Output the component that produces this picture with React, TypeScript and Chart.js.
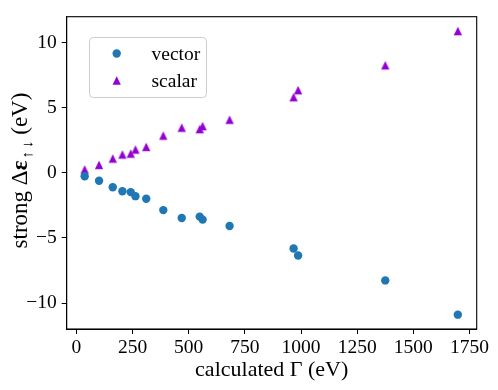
import React, { useEffect, useRef } from "react";
import { Chart, registerables } from "chart.js";

Chart.register(...registerables);

const gammaX = [37, 101, 162, 205, 242, 263, 311, 387, 469, 549, 562, 682, 967, 987, 1375, 1698];
const vectorY = [-0.26, -0.61, -1.1, -1.41, -1.48, -1.79, -1.99, -2.86, -3.47, -3.36, -3.59, -4.08, -5.81, -6.35, -8.26, -10.89];
const scalarY = [0.26, 0.61, 1.1, 1.41, 1.48, 1.79, 1.99, 2.86, 3.47, 3.36, 3.59, 4.08, 5.81, 6.35, 8.26, 10.89];
const xTicks = [0, 250, 500, 750, 1000, 1250, 1500, 1750];
const yTicks = [-10, -5, 0, 5, 10];
const seriesNames = ["vector", "scalar"];
const colors = ["#1f77b4", "#9400d3"];

const SERIF = "'Liberation Serif', 'DejaVu Serif', serif";

function makeTriangle(color: string) {
  const c = document.createElement("canvas");
  c.width = 12;
  c.height = 12;
  const g = c.getContext("2d")!;
  const h = 4.15;
  g.fillStyle = color;
  g.beginPath();
  g.moveTo(6, 6 - h);
  g.lineTo(6 + h, 6 + h);
  g.lineTo(6 - h, 6 + h);
  g.closePath();
  g.fill();
  return c;
}

const framePlugin = {
  id: "frame",
  afterDraw(chart: any) {
    const { ctx, chartArea } = chart;
    const a = chartArea;
    ctx.save();
    ctx.strokeStyle = "#000";
    ctx.lineWidth = 1.1;
    ctx.strokeRect(a.left, a.top, a.right - a.left, a.bottom - a.top);

    // x title
    ctx.fillStyle = "#000";
    ctx.font = `22px ${SERIF}`;
    ctx.textAlign = "center";
    ctx.textBaseline = "alphabetic";
    ctx.fillText("calculated Γ (eV)", (a.left + a.right) / 2, 376);

    // y title (rotated, with subscript arrows)
    ctx.save();
    ctx.translate(27, 170.5);
    ctx.rotate(-Math.PI / 2);
    const big = `23px ${SERIF}`;
    const small = `15px ${SERIF}`;
    const parts = [
      { t: "strong Δ", f: big, dy: 0, gap: 0 },
      { t: "ε", f: `bold 23px ${SERIF}`, dy: 0, gap: 2 },
      { t: "↑", f: small, dy: 5, gap: 3 },
      { t: "↓", f: small, dy: 5, gap: 0 },
      { t: " (eV)", f: big, dy: 0, gap: 0 },
    ];
    let total = 0;
    for (const p of parts) {
      ctx.font = p.f;
      total += ctx.measureText(p.t).width + p.gap;
    }
    let x = -total / 2;
    ctx.textAlign = "left";
    for (const p of parts) {
      ctx.font = p.f;
      ctx.fillText(p.t, x, p.dy);
      x += ctx.measureText(p.t).width + p.gap;
    }
    ctx.restore();

    // legend
    const lx = 89.5, ly = 37.5, lw = 117, lh = 60, r = 4;
    ctx.beginPath();
    ctx.moveTo(lx + r, ly);
    ctx.lineTo(lx + lw - r, ly);
    ctx.arcTo(lx + lw, ly, lx + lw, ly + r, r);
    ctx.lineTo(lx + lw, ly + lh - r);
    ctx.arcTo(lx + lw, ly + lh, lx + lw - r, ly + lh, r);
    ctx.lineTo(lx + r, ly + lh);
    ctx.arcTo(lx, ly + lh, lx, ly + lh - r, r);
    ctx.lineTo(lx, ly + r);
    ctx.arcTo(lx, ly, lx + r, ly, r);
    ctx.closePath();
    ctx.fillStyle = "rgba(255,255,255,0.8)";
    ctx.fill();
    ctx.strokeStyle = "#cccccc";
    ctx.lineWidth = 1;
    ctx.stroke();

    const rows = [53.5, 80.5];
    ctx.font = `19.5px ${SERIF}`;
    ctx.textBaseline = "middle";
    ctx.textAlign = "left";
    rows.forEach((yy, i) => {
      ctx.fillStyle = colors[i];
      if (i === 0) {
        ctx.beginPath();
        ctx.arc(116.7, yy, 4.2, 0, Math.PI * 2);
        ctx.fill();
      } else {
        ctx.beginPath();
        ctx.moveTo(116.7, yy - 4.15);
        ctx.lineTo(116.7 + 4.15, yy + 4.15);
        ctx.lineTo(116.7 - 4.15, yy + 4.15);
        ctx.closePath();
        ctx.fill();
      }
      ctx.fillStyle = "#000";
      ctx.fillText(seriesNames[i], 151.5, yy + 1);
    });
    ctx.restore();
  },
};

const fmt = (v: number) => String(v).replace("-", "\u2212");

export default function App() {
  const ref = useRef<HTMLCanvasElement>(null);
  useEffect(() => {
    const tri = makeTriangle(colors[1]);
    const chart = new Chart(ref.current!, {
      type: "scatter",
      data: {
        datasets: [
          {
            label: seriesNames[0],
            data: gammaX.map((x, i) => ({ x, y: vectorY[i] })),
            backgroundColor: colors[0],
            borderColor: colors[0],
            pointStyle: "circle",
            pointRadius: 4.2,
            borderWidth: 0,
          },
          {
            label: seriesNames[1],
            data: gammaX.map((x, i) => ({ x, y: scalarY[i] })),
            backgroundColor: colors[1],
            borderColor: colors[1],
            pointStyle: tri,
            pointRadius: 4.2,
            borderWidth: 0,
          },
        ],
      },
      options: {
        animation: false,
        responsive: false,
        devicePixelRatio: 1,
        layout: { padding: { left: 0, right: 21.3, top: 15.3, bottom: 0 } },
        plugins: { legend: { display: false }, tooltip: { enabled: false } },
        scales: {
          x: {
            type: "linear",
            min: -43,
            max: 1782,
            afterBuildTicks: (s: any) => {
              s.ticks = xTicks.map((v) => ({ value: v }));
            },
            afterFit: (s: any) => {
              s.height = 61;
            },
            grid: { display: true, drawOnChartArea: false, drawTicks: true, tickLength: 5, color: "#000", lineWidth: 1 },
            border: { display: true, color: "#000", width: 1 },
            ticks: {
              color: "#000",
              font: { family: SERIF, size: 19.5 },
              padding: 2,
              maxRotation: 0,
              autoSkip: false,
              callback: (v: any) => fmt(v),
            },
          },
          y: {
            type: "linear",
            min: -11.99,
            max: 11.99,
            afterBuildTicks: (s: any) => {
              s.ticks = yTicks.map((v) => ({ value: v }));
            },
            afterFit: (s: any) => {
              s.width = 66.7;
            },
            grid: { display: true, drawOnChartArea: false, drawTicks: true, tickLength: 5, color: "#000", lineWidth: 1 },
            border: { display: true, color: "#000", width: 1 },
            ticks: {
              color: "#000",
              font: { family: SERIF, size: 19.5 },
              padding: 5,
              autoSkip: false,
              callback: (v: any) => fmt(v),
            },
          },
        },
      },
      plugins: [framePlugin],
    } as any);
    return () => chart.destroy();
  }, []);
  return (
    <div style={{ position: "absolute", left: 0, top: 0, width: 498, height: 390, background: "#fff" }}>
      <canvas ref={ref} width={498} height={390} />
    </div>
  );
}
